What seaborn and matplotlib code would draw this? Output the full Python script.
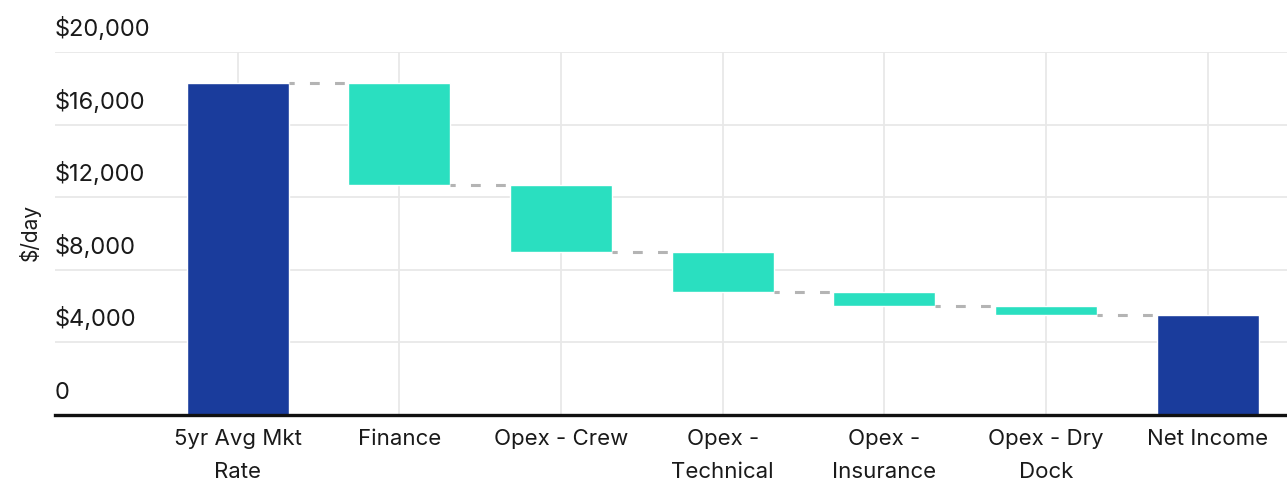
import matplotlib
matplotlib.use("Agg")
import matplotlib.pyplot as plt
import matplotlib.transforms as mtransforms
import seaborn as sns
import numpy as np

# Daily economics waterfall ($/day)
categories = ["5yr Avg Mkt\nRate", "Finance", "Opex - Crew", "Opex -\nTechnical",
              "Opex -\nInsurance", "Opex - Dry\nDock", "Net Income"]
market_rate = 18300
costs = [-5650, -3680, -2180, -800, -500]
net_income = market_rate + sum(costs)

y_ticks = [0, 4000, 8000, 12000, 16000, 20000]
y_tick_labels = ["0", "$4,000", "$8,000", "$12,000", "$16,000", "$20,000"]

TOTAL_COLOR = "#1a3c9c"
STEP_COLOR = "#2adfc0"
GRID_COLOR = "#e8e8e8"
CONNECTOR_COLOR = "#b4b4b4"

sns.set_theme(style="white")
plt.rcParams["font.family"] = ["Inter", "DejaVu Sans"]

fig = plt.figure(figsize=(12.87, 4.86), dpi=100)
ax = fig.add_axes([55 / 1287, 1 - 415 / 486, 1 - 55 / 1287, (415 - 52) / 486])

# running levels for the floating bars
levels = np.cumsum([market_rate] + costs)
step_tops = levels[:-1]
step_bottoms = levels[1:]
step_heights = step_tops - step_bottoms

total_cats = [categories[0], categories[-1]]
step_cats = categories[1:-1]

sns.barplot(x=total_cats, y=[market_rate, net_income], order=categories,
            color=TOTAL_COLOR, saturation=1, width=0.63, errorbar=None, ax=ax)
sns.barplot(x=step_cats, y=list(step_heights), bottom=list(step_bottoms), order=categories,
            color=STEP_COLOR, saturation=1, width=0.63, errorbar=None, ax=ax)

# dashed connectors between consecutive bars
half = 0.63 / 2
for i, lvl in enumerate(levels):
    ax.plot([i + half, i + 1 - half], [lvl, lvl], color=CONNECTOR_COLOR, lw=2.2,
            ls=(1.5, (3.2, 5.0)), solid_capstyle="butt", dash_capstyle="butt", zorder=3)

ax.set_xlim(-1.13, 6.49)
ax.set_ylim(0, 20000)
ax.set_yticks(y_ticks)
ax.set_yticklabels([])
ax.tick_params(axis="y", length=0)
ax.tick_params(axis="x", length=0, pad=10, labelsize=16, labelcolor="#1a1a1a")
for lbl in ax.get_xticklabels():
    lbl.set_linespacing(1.85)
    lbl.set_verticalalignment("top")

ax.set_axisbelow(True)
ax.grid(True, axis="both", color=GRID_COLOR, lw=1.3)

for side in ["top", "right", "left"]:
    ax.spines[side].set_visible(False)
ax.spines["bottom"].set_color("#111111")
ax.spines["bottom"].set_linewidth(2.4)

# y tick labels sit above their gridlines at the left edge
offset = mtransforms.offset_copy(ax.get_yaxis_transform(), fig=fig, x=0, y=11, units="dots")
for val, txt in zip(y_ticks, y_tick_labels):
    ax.text(0.0, val, txt, transform=offset, ha="left", va="bottom",
            fontsize=17, color="#1a1a1a", clip_on=False)

ax.set_xlabel("")
ax.set_ylabel("")
fig.text(30 / 1287, 1 - 232 / 486, "$/day", rotation=90, ha="center", va="center",
         fontsize=15, color="#1a1a1a")

fig.savefig("out.png", dpi=100, facecolor="white")
